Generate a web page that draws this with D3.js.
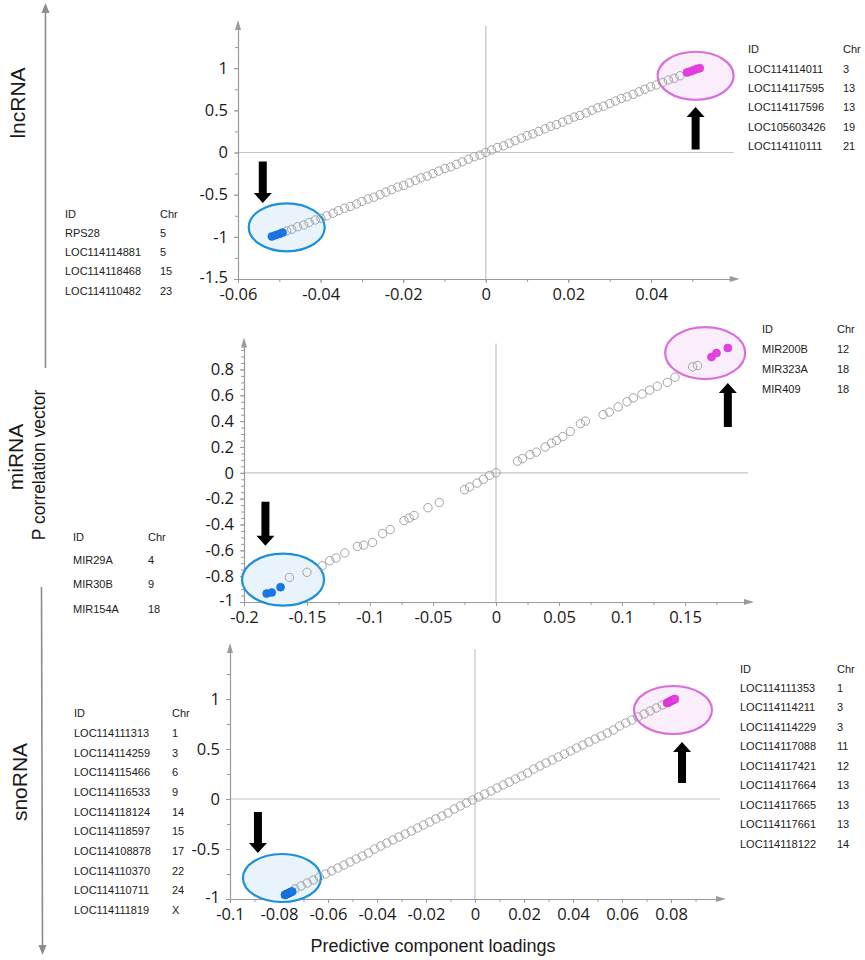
<!DOCTYPE html>
<html><head><meta charset="utf-8">
<script src="https://cdn.jsdelivr.net/npm/d3@7"></script>
<style>body{margin:0;background:#fff}svg{display:block}</style>
</head><body>
<svg id="c" width="865" height="960"></svg>
<script>
// ---------------- DATA ----------------
const lncGray=[[-0.0482,-0.93],[-0.0470,-0.91],[-0.0456,-0.88],[-0.0441,-0.86],[-0.0428,-0.83],[-0.0413,-0.80],[-0.0399,-0.78],[-0.0385,-0.75],[-0.0370,-0.72],[-0.0357,-0.69],[-0.0342,-0.66],[-0.0328,-0.64],[-0.0313,-0.61],[-0.0300,-0.58],[-0.0285,-0.55],[-0.0271,-0.53],[-0.0256,-0.50],[-0.0242,-0.47],[-0.0228,-0.44],[-0.0213,-0.41],[-0.0199,-0.39],[-0.0185,-0.36],[-0.0170,-0.33],[-0.0157,-0.30],[-0.0142,-0.28],[-0.0128,-0.25],[-0.0114,-0.22],[-0.0099,-0.19],[-0.0085,-0.17],[-0.0071,-0.14],[-0.0057,-0.11],[-0.0042,-0.08],[-0.0028,-0.05],[-0.0014,-0.03],[0.0000,0.00],[0.0014,0.03],[0.0028,0.06],[0.0043,0.08],[0.0057,0.11],[0.0071,0.14],[0.0086,0.17],[0.0100,0.20],[0.0114,0.22],[0.0128,0.25],[0.0143,0.28],[0.0157,0.31],[0.0171,0.33],[0.0186,0.36],[0.0200,0.39],[0.0214,0.42],[0.0228,0.44],[0.0243,0.47],[0.0257,0.50],[0.0271,0.53],[0.0285,0.55],[0.0300,0.58],[0.0314,0.61],[0.0328,0.64],[0.0342,0.66],[0.0357,0.69],[0.0371,0.72],[0.0385,0.75],[0.0399,0.78],[0.0413,0.80],[0.0428,0.83],[0.0442,0.86],[0.0456,0.88],[0.0470,0.91]];
const lncBlue=[[-0.0518,-0.995],[-0.0509,-0.98],[-0.0500,-0.965],[-0.0492,-0.95]];
const lncPink=[[0.0487,0.95],[0.0495,0.96],[0.0503,0.975],[0.0511,0.99],[0.0518,1.0]];
const lncLeftIds=["RPS28","LOC114114881","LOC114118468","LOC114110482"];
const lncLeftChr=["5","5","15","23"];
const lncRightIds=["LOC114114011","LOC114117595","LOC114117596","LOC105603426","LOC114110111"];
const lncRightChr=["3","13","13","19","21"];
const lncXTicks=[-0.06,-0.04,-0.02,0,0.02,0.04];
const lncYTicks=[-1.5,-1,-0.5,0,0.5,1];

const miGray=[[-0.164,-0.81],[-0.150,-0.77],[-0.138,-0.72],[-0.132,-0.68],[-0.127,-0.66],[-0.120,-0.62],[-0.110,-0.57],[-0.105,-0.56],[-0.098,-0.54],[-0.090,-0.47],[-0.084,-0.44],[-0.073,-0.37],[-0.069,-0.35],[-0.065,-0.33],[-0.054,-0.27],[-0.045,-0.23],[-0.025,-0.13],[-0.021,-0.11],[-0.015,-0.08],[-0.010,-0.05],[-0.005,-0.02],[0.000,0.00],[0.017,0.09],[0.021,0.11],[0.027,0.14],[0.032,0.16],[0.039,0.20],[0.044,0.23],[0.048,0.25],[0.053,0.28],[0.059,0.32],[0.067,0.38],[0.071,0.40],[0.085,0.45],[0.090,0.47],[0.097,0.51],[0.104,0.55],[0.109,0.58],[0.116,0.61],[0.122,0.64],[0.128,0.67],[0.136,0.70],[0.142,0.74],[0.156,0.82],[0.160,0.83]];
const miBlue=[[-0.182,-0.935],[-0.178,-0.927],[-0.171,-0.885]];
const miPink=[[0.171,0.896],[0.175,0.927],[0.184,0.966]];
const miLeftIds=["MIR29A","MIR30B","MIR154A"];
const miLeftChr=["4","9","18"];
const miRightIds=["MIR200B","MIR323A","MIR409"];
const miRightChr=["12","18","18"];
const miXTicks=[-0.2,-0.15,-0.1,-0.05,0,0.05,0.1,0.15];
const miYTicks=[-1,-0.8,-0.6,-0.4,-0.2,0,0.2,0.4,0.6,0.8];

const snoGray=[[-0.0735,-0.90],[-0.0710,-0.87],[-0.0685,-0.84],[-0.0660,-0.81],[-0.0635,-0.78],[-0.0610,-0.75],[-0.0585,-0.72],[-0.0560,-0.69],[-0.0535,-0.66],[-0.0510,-0.63],[-0.0485,-0.60],[-0.0460,-0.57],[-0.0435,-0.54],[-0.0410,-0.50],[-0.0385,-0.47],[-0.0360,-0.44],[-0.0335,-0.41],[-0.0310,-0.38],[-0.0285,-0.35],[-0.0260,-0.32],[-0.0235,-0.29],[-0.0210,-0.26],[-0.0185,-0.23],[-0.0160,-0.20],[-0.0135,-0.17],[-0.0110,-0.14],[-0.0085,-0.10],[-0.0060,-0.07],[-0.0035,-0.04],[-0.0010,-0.01],[0.0015,0.02],[0.0040,0.05],[0.0065,0.08],[0.0090,0.11],[0.0115,0.14],[0.0140,0.17],[0.0165,0.20],[0.0190,0.23],[0.0215,0.26],[0.0240,0.30],[0.0265,0.33],[0.0290,0.36],[0.0315,0.39],[0.0340,0.42],[0.0365,0.45],[0.0390,0.48],[0.0415,0.51],[0.0440,0.54],[0.0465,0.57],[0.0490,0.60],[0.0515,0.63],[0.0540,0.66],[0.0565,0.69],[0.0590,0.73],[0.0615,0.76],[0.0640,0.79],[0.0665,0.82],[0.0690,0.85],[0.0715,0.88],[0.0740,0.91],[0.0765,0.94]];
const snoBlue=[[-0.0776,-0.960],[-0.0773,-0.956],[-0.0769,-0.952],[-0.0766,-0.948],[-0.0763,-0.944],[-0.0759,-0.940],[-0.0756,-0.936],[-0.0753,-0.932],[-0.0749,-0.928],[-0.0746,-0.924]];
const snoPink=[[0.0784,0.960],[0.0788,0.965],[0.0792,0.970],[0.0796,0.975],[0.0800,0.980],[0.0804,0.985],[0.0808,0.990],[0.0812,0.995],[0.0816,1.000]];
const snoLeftIds=["LOC114111313","LOC114114259","LOC114115466","LOC114116533","LOC114118124","LOC114118597","LOC114108878","LOC114110370","LOC114110711","LOC114111819"];
const snoLeftChr=["1","3","6","9","14","15","17","22","24","X"];
const snoRightIds=["LOC114111353","LOC114114211","LOC114114229","LOC114117088","LOC114117421","LOC114117664","LOC114117665","LOC114117661","LOC114118122"];
const snoRightChr=["1","3","3","11","12","13","13","13","14"];
const snoXTicks=[-0.1,-0.08,-0.06,-0.04,-0.02,0,0.02,0.04,0.06,0.08];
const snoYTicks=[-1,-0.5,0,0.5,1];

const panelNames=["lncRNA","miRNA","snoRNA"];
const yAxisTitle="P correlation vector";
const xAxisTitle="Predictive component loadings";
const tableHeader=["ID","Chr"];

// ---------------- LAYOUT ----------------
const panels=[
 {gray:lncGray,blue:lncBlue,pink:lncPink,xt:lncXTicks,yt:lncYTicks,
  xd:[-0.06,0.06],xr:[238,733.6],yd:[-1.5,1.5],yr:[279,26],xminor:0.01,yminor:0.25,
  blueEl:[-0.0482,-0.887,38,24],pinkEl:[0.0508,0.91,38,24],
  down:[-0.054,-0.106,-0.60],up:[0.0508,0.035,0.54],
  tables:[{ids:lncLeftIds,chr:lncLeftChr,x1:65,x2:160,hy:214,ry:233,step:19.3},
          {ids:lncRightIds,chr:lncRightChr,x1:748,x2:843,hy:49,ry:69,step:19.3}]},
 {gray:miGray,blue:miBlue,pink:miPink,xt:miXTicks,yt:miYTicks,
  xd:[-0.2,0.2],xr:[244,748],yd:[-1,1],yr:[602,343.6],xminor:0.025,yminor:0.05,
  blueEl:[-0.169,-0.827,41,26],pinkEl:[0.166,0.927,40,26],
  down:[-0.183,-0.224,-0.564],up:[0.184,0.355,0.696],
  tables:[{ids:miLeftIds,chr:miLeftChr,x1:73,x2:148,hy:537,ry:560,step:24.5},
          {ids:miRightIds,chr:miRightChr,x1:762,x2:837,hy:329,ry:349,step:20}]},
 {gray:snoGray,blue:snoBlue,pink:snoPink,xt:snoXTicks,yt:snoYTicks,
  xd:[-0.1,0.1],xr:[230,720],yd:[-1,1.5],yr:[899,649],xminor:0.01,yminor:0.25,
  blueEl:[-0.0788,-0.79,39,24],pinkEl:[0.0808,0.89,39,24],
  down:[-0.0886,-0.13,-0.54],up:[0.0845,0.16,0.57],
  tables:[{ids:snoLeftIds,chr:snoLeftChr,x1:74,x2:172,hy:713,ry:733,step:19.7},
          {ids:snoRightIds,chr:snoRightChr,x1:740,x2:837,hy:669,ry:688,step:19.5}]}
];

const svg=d3.select("#c");
const AX="#9a9a9a", ZL="#c4c4c4", TXT="#1a1a1a";
const fmt=d=>String(d);

function blockArrow(g,x,y0,y1){
  const dir=Math.sign(y1-y0), hl=10, sw=4, hw=9;
  const yb=y1-dir*hl;
  const pts=[[x-sw,y0],[x+sw,y0],[x+sw,yb],[x+hw,yb],[x,y1],[x-hw,yb],[x-sw,yb]];
  g.append("path").attr("d","M"+pts.map(p=>p.join(",")).join("L")+"Z").attr("fill","#000");
}

panels.forEach(p=>{
  const g=svg.append("g");
  const sx=d3.scaleLinear().domain(p.xd).range(p.xr);
  const sy=d3.scaleLinear().domain(p.yd).range(p.yr);
  const x0=sx(p.xd[0]), y0=sy(p.yd[0]);
  g.append("line").attr("x1",p.xr[0]).attr("x2",p.xr[1]).attr("y1",sy(0)).attr("y2",sy(0)).attr("stroke",ZL).attr("stroke-width",1.2);
  g.append("line").attr("x1",sx(0)).attr("x2",sx(0)).attr("y1",p.yr[0]).attr("y2",p.yr[1]).attr("stroke",ZL).attr("stroke-width",1.2);
  const xm=d3.range(p.xd[0],p.xd[1]-1e-9,p.xminor).map(v=>+v.toFixed(4));
  const ym=d3.range(p.yd[0],p.yd[1]-1e-9,p.yminor).map(v=>+v.toFixed(4));
  const xMinor=g.append("g").attr("transform",`translate(0,${y0})`)
    .call(d3.axisBottom(sx).tickValues(xm).tickFormat("").tickSize(3).tickSizeOuter(0));
  const yMinor=g.append("g").attr("transform",`translate(${x0},0)`)
    .call(d3.axisLeft(sy).tickValues(ym).tickFormat("").tickSize(3).tickSizeOuter(0));
  [xMinor,yMinor].forEach(a=>{a.selectAll("line").attr("stroke",AX);a.select(".domain").remove();});
  const xa=g.append("g").attr("transform",`translate(0,${y0})`)
    .call(d3.axisBottom(sx).tickValues(p.xt).tickFormat(fmt).tickSize(4).tickSizeOuter(0).tickPadding(5));
  const ya=g.append("g").attr("transform",`translate(${x0},0)`)
    .call(d3.axisLeft(sy).tickValues(p.yt).tickFormat(fmt).tickSize(4).tickSizeOuter(0).tickPadding(6));
  [xa,ya].forEach(a=>{
    a.select(".domain").attr("stroke",AX).attr("stroke-width",1.2);
    a.selectAll("line").attr("stroke",AX);
    a.selectAll("text").attr("font-family","'Open Sans',sans-serif").attr("font-size",16.5).attr("fill",TXT);
  });
  // lift the lowest y label slightly so it clears the x labels
  ya.selectAll(".tick").filter(d=>d===p.yd[0]).select("text").attr("dy","0.2em");
  const xe=p.xr[1], yt=p.yr[1];
  g.append("path").attr("d",`M${xe+6},${y0}L${xe-4},${y0-3}L${xe-4},${y0+3}Z`).attr("fill",AX);
  g.append("path").attr("d",`M${x0},${yt-6}L${x0-3},${yt+4}L${x0+3},${yt+4}Z`).attr("fill",AX);
  const drawEl=(e,fill,stroke)=>g.append("ellipse").attr("cx",sx(e[0])).attr("cy",sy(e[1])).attr("rx",e[2]).attr("ry",e[3])
     .attr("fill",fill).attr("stroke",stroke).attr("stroke-width",2.2);
  drawEl(p.blueEl,"#e9f3fb","#1e8fd9");
  drawEl(p.pinkEl,"#fbeefb","#da6fdc");
  g.append("g").selectAll("circle").data(p.gray).join("circle")
    .attr("cx",d=>sx(d[0])).attr("cy",d=>sy(d[1])).attr("r",4.2)
    .attr("fill","none").attr("stroke","#a3a3a3").attr("stroke-width",1);
  g.append("g").selectAll("circle").data(p.blue).join("circle")
    .attr("cx",d=>sx(d[0])).attr("cy",d=>sy(d[1])).attr("r",4)
    .attr("fill","#1a78e6").attr("stroke","#1469cf").attr("stroke-width",0.6);
  g.append("g").selectAll("circle").data(p.pink).join("circle")
    .attr("cx",d=>sx(d[0])).attr("cy",d=>sy(d[1])).attr("r",4)
    .attr("fill","#e640e3").attr("stroke","#d032d0").attr("stroke-width",0.6);
  blockArrow(g,sx(p.down[0]),sy(p.down[1]),sy(p.down[2]));
  blockArrow(g,sx(p.up[0]),sy(p.up[1]),sy(p.up[2]));
  p.tables.forEach(t=>{
    const tg=g.append("g").attr("font-family","Arial,'Liberation Sans',sans-serif").attr("font-size",11).attr("fill","#222");
    tg.append("text").attr("x",t.x1).attr("y",t.hy).attr("dy","0.35em").text(tableHeader[0]);
    tg.append("text").attr("x",t.x2).attr("y",t.hy).attr("dy","0.35em").text(tableHeader[1]);
    tg.selectAll("text.r").data(t.ids).join("text").attr("class","r")
      .attr("x",t.x1).attr("y",(d,i)=>t.ry+i*t.step).attr("dy","0.35em").text(d=>d);
    tg.selectAll("text.c").data(t.chr).join("text").attr("class","c")
      .attr("x",t.x2).attr("y",(d,i)=>t.ry+i*t.step).attr("dy","0.35em").text(d=>d);
  });
});

const LG="#8c8c8c";
svg.append("line").attr("x1",45.5).attr("x2",45.5).attr("y1",10).attr("y2",368).attr("stroke",LG).attr("stroke-width",1.6);
svg.append("path").attr("d","M45.5,3L41.5,13L49.5,13Z").attr("fill",LG);
svg.append("line").attr("x1",41.5).attr("x2",42.5).attr("y1",587).attr("y2",948).attr("stroke",LG).attr("stroke-width",1.6);
svg.append("path").attr("d","M42.5,955L38.5,945L46.5,945Z").attr("fill",LG);

const titles=[{t:panelNames[0],x:18,y:103,s:21},{t:panelNames[1],x:16,y:457,s:21},{t:yAxisTitle,x:39,y:465,s:17.5},{t:panelNames[2],x:20,y:782,s:21}];
titles.forEach(o=>{
  svg.append("text").attr("transform",`translate(${o.x},${o.y}) rotate(-90)`)
    .attr("text-anchor","middle").attr("dy","0.35em")
    .attr("font-family","Arial,'Liberation Sans',sans-serif").attr("font-size",o.s).attr("fill",TXT).text(o.t);
});
svg.append("text").attr("x",433).attr("y",946).attr("dy","0.35em").attr("text-anchor","middle")
  .attr("font-family","Arial,'Liberation Sans',sans-serif").attr("font-size",18).attr("fill",TXT).text(xAxisTitle);
</script>
</body></html>
